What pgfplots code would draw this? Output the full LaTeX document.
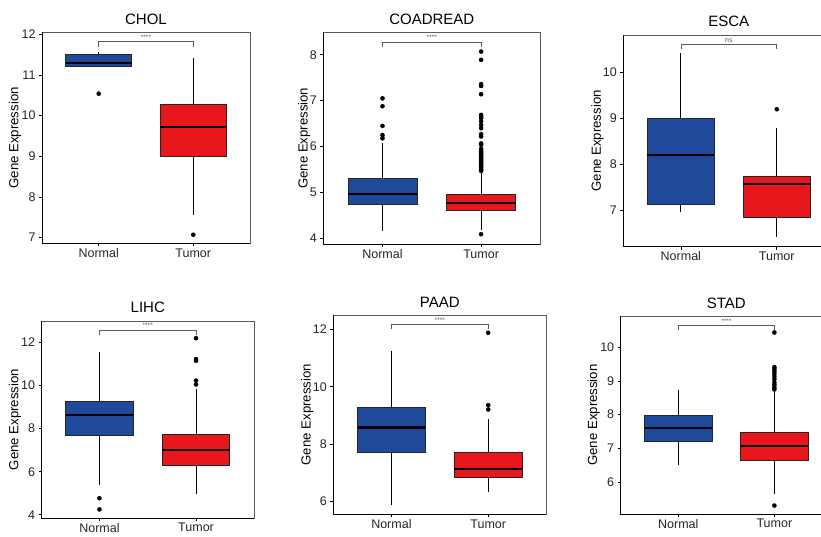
\documentclass[border=0pt]{standalone}
\usepackage{pgfplots}
\pgfplotsset{compat=1.18}
\usepackage{fontspec}
\setmainfont{Liberation Sans}
\definecolor{nblue}{HTML}{1F4A9C}
\definecolor{tred}{HTML}{E8171C}
\definecolor{frame}{HTML}{5A5A5A}
\tikzset{stars/.style={font=\fontsize{6.5}{7}\selectfont, text=frame, anchor=south, inner sep=1pt}}
\pgfplotsset{
  gg/.style={
    scale only axis, clip=false,
    xmin=0.4, xmax=2.6, xtick={1,2}, xticklabels={Normal,Tumor},
    tick align=outside, tick pos=left, major tick length=3pt,
    axis line style={draw=frame, line width=0.6pt},
    every tick/.style={black, line width=0.7pt},
    ticklabel style={font=\fontsize{12.5}{14}\selectfont, text=black!85},
    xticklabel style={inner sep=2pt},
    /pgf/number format/assume math mode=true,
    ylabel={Gene Expression},
    every axis y label/.style={rotate=90, anchor=center, font=\fontsize{13.2}{15}\selectfont},
    title style={font=\fontsize{15}{17}\selectfont, anchor=base, at={(axis description cs:0.5,1)}, yshift=2pt},
    after end axis/.code={
      \draw[black, line width=0.9pt] (rel axis cs:0,1) -- (rel axis cs:0,0) -- (rel axis cs:1,0);
    },
  },
  whisk/.style={black, line width=0.75pt, mark=none},
  boxs/.style={draw=black!85, line width=0.75pt, line join=miter, mark=none},
  med/.style={black, line width=2.2pt, mark=none},
  outl/.style={only marks, mark=*, mark size=2.1pt, mark options={fill=black, draw=black, line width=0.3pt}},
  brk/.style={draw=frame, line width=0.6pt, mark=none},
}
% #1 centre, #2 left edge, #3 right edge, #4 fill colour,
% #5 lower whisker, #6 lower quartile, #7 median, #8 upper quartile, #9 upper whisker
\newcommand{\gbox}[9]{%
  \addplot[whisk] coordinates {(#1,#5) (#1,#9)};
  \addplot[boxs, fill=#4] coordinates {(#2,#6) (#3,#6) (#3,#8) (#2,#8) (#2,#6)} -- cycle;
  \addplot[med] coordinates {(#2,#7) (#3,#7)};
}
\begin{document}
\begin{tikzpicture}
\path[use as bounding box] (0pt,0pt) rectangle (821pt,536pt);
\clip (0pt,0pt) rectangle (821pt,536pt);

% CHOL
\begin{axis}[gg, at={(42pt,292.7pt)}, anchor=south west, width=208pt, height=211pt,
  ymin=6.86, ymax=12.05, ytick={7,8,9,10,11,12}, title={CHOL},
  ylabel style={at={(axis description cs:-0.130,0.5)}}]
\gbox{1}{0.65}{1.35}{nblue}{11.20}{11.20}{11.29}{11.51}{11.56}
\gbox{2}{1.65}{2.35}{tred}{7.55}{9.01}{9.72}{10.28}{11.43}
\addplot[outl] coordinates {(1,10.54) (2,7.07)};
\addplot[brk] coordinates {(1,11.70) (1,11.82) (2,11.82) (2,11.70)};
\node[stars] at (axis cs:1.5,11.84) {****};
\end{axis}

% COADREAD
\begin{axis}[gg, at={(323.3pt,291.7pt)}, anchor=south west, width=217pt, height=212pt,
  ymin=3.87, ymax=8.49, ytick={4,5,6,7,8}, title={COADREAD},
  ylabel style={at={(axis description cs:-0.088,0.5)}}]
\gbox{1}{0.65}{1.35}{nblue}{4.15}{4.75}{4.97}{5.31}{6.07}
\gbox{2}{1.65}{2.35}{tred}{4.18}{4.60}{4.77}{4.96}{5.44}
\addplot[outl] coordinates {(1,6.18) (1,6.25) (1,6.45) (1,6.88) (1,7.05)};
\addplot[outl] coordinates {(2,4.09) (2,5.47) (2,5.50) (2,5.53) (2,5.56) (2,5.58) (2,5.61) (2,5.64) (2,5.67) (2,5.69) (2,5.72) (2,5.75) (2,5.78) (2,5.80) (2,5.83) (2,5.85) (2,5.88) (2,5.90) (2,5.95) (2,6.04) (2,6.07) (2,6.22) (2,6.27) (2,6.40) (2,6.47) (2,6.55) (2,6.62) (2,6.65) (2,6.69) (2,7.14) (2,7.32) (2,7.36) (2,7.89) (2,8.07)};
\addplot[brk] coordinates {(1,8.17) (1,8.28) (2,8.28) (2,8.17)};
\node[stars] at (axis cs:1.5,8.30) {****};
\end{axis}

% ESCA
\begin{axis}[gg, at={(623.3pt,289.3pt)}, anchor=south west, width=211pt, height=211.7pt,
  ymin=6.20, ymax=10.82, ytick={7,8,9,10}, title={ESCA},
  ylabel style={at={(axis description cs:-0.123,0.5)}}]
\gbox{1}{0.65}{1.35}{nblue}{6.95}{7.12}{8.20}{9.00}{10.42}
\gbox{2}{1.65}{2.35}{tred}{6.42}{6.83}{7.56}{7.73}{8.78}
\addplot[outl] coordinates {(2,9.20)};
\addplot[brk] coordinates {(1,10.51) (1,10.62) (2,10.62) (2,10.51)};
\node[stars, font=\fontsize{7}{8}\selectfont] at (axis cs:1.5,10.63) {ns};
\end{axis}

% LIHC
\begin{axis}[gg, at={(41.5pt,18pt)}, anchor=south west, width=212.5pt, height=197pt,
  ymin=3.85, ymax=13.0, ytick={4,6,8,10,12}, title={LIHC},
  ylabel style={at={(axis description cs:-0.125,0.5)}}]
\gbox{1}{0.65}{1.35}{nblue}{5.38}{7.69}{8.62}{9.26}{11.54}
\gbox{2}{1.65}{2.35}{tred}{4.97}{6.31}{7.00}{7.74}{9.82}
\addplot[outl] coordinates {(1,4.25) (1,4.77) (2,10.05) (2,10.23) (2,11.15) (2,11.23) (2,12.20)};
\addplot[brk] coordinates {(1,12.35) (1,12.58) (2,12.58) (2,12.35)};
\node[stars] at (axis cs:1.5,12.62) {****};
\end{axis}

% PAAD
\begin{axis}[gg, at={(333.3pt,21.7pt)}, anchor=south west, width=213pt, height=199.3pt,
  ymin=5.56, ymax=12.5, ytick={6,8,10,12}, title={PAAD},
  ylabel style={at={(axis description cs:-0.122,0.5)}}]
\gbox{1}{0.65}{1.35}{nblue}{5.88}{7.73}{8.58}{9.28}{11.26}
\gbox{2}{1.65}{2.35}{tred}{6.35}{6.84}{7.14}{7.71}{8.89}
\addplot[outl] coordinates {(2,9.21) (2,9.36) (2,11.88)};
\addplot[brk] coordinates {(1,12.00) (1,12.17) (2,12.17) (2,12.00)};
\node[stars] at (axis cs:1.5,12.20) {****};
\end{axis}

% STAD
\begin{axis}[gg, at={(620.7pt,22pt)}, anchor=south west, width=211.3pt, height=198pt,
  ymin=5.05, ymax=10.93, ytick={6,7,8,9,10}, title={STAD},
  ylabel style={at={(axis description cs:-0.128,0.5)}}]
\gbox{1}{0.65}{1.35}{nblue}{6.50}{7.22}{7.61}{7.99}{8.73}
\gbox{2}{1.65}{2.35}{tred}{5.64}{6.65}{7.07}{7.47}{8.70}
\addplot[outl] coordinates {(2,5.30) (2,8.75) (2,8.81) (2,8.88) (2,8.95) (2,9.05) (2,9.13) (2,9.21) (2,9.28) (2,9.35) (2,9.41) (2,10.44)};
\addplot[brk] coordinates {(1,10.51) (1,10.66) (2,10.66) (2,10.51)};
\node[stars] at (axis cs:1.5,10.68) {****};
\end{axis}
\end{tikzpicture}
\end{document}
